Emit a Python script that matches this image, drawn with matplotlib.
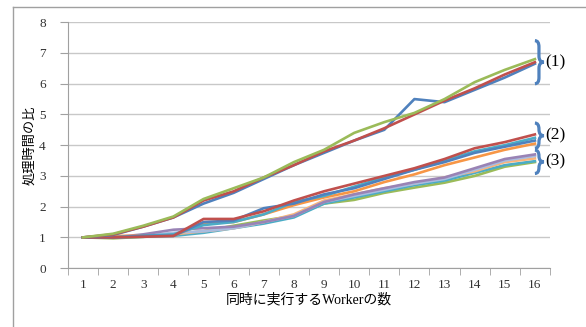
import matplotlib
matplotlib.use('Agg')
import matplotlib.pyplot as plt
from matplotlib.path import Path
from matplotlib.patches import PathPatch
from matplotlib.lines import Line2D

# Worker数ごとの処理時間の比
workers = list(range(1, 17))

# (1) のグループ
g1_blue = [1, 1.08, 1.35, 1.65, 2.1, 2.45, 2.9, 3.35, 3.75, 4.15, 4.5, 5.5, 5.4, 5.8, 6.2, 6.65]
g1_red = [1, 1.1, 1.35, 1.65, 2.2, 2.5, 2.95, 3.35, 3.8, 4.15, 4.55, 5.0, 5.45, 5.85, 6.3, 6.7]
g1_green = [1, 1.12, 1.38, 1.68, 2.25, 2.6, 2.95, 3.45, 3.85, 4.4, 4.75, 5.05, 5.5, 6.05, 6.45, 6.8]

# (2) のグループ
g2_red = [1, 1.0, 1.02, 1.05, 1.6, 1.6, 1.85, 2.2, 2.5, 2.75, 3.0, 3.25, 3.55, 3.9, 4.1, 4.35]
g2_blue = [1, 1.0, 1.05, 1.05, 1.5, 1.55, 1.95, 2.1, 2.4, 2.6, 2.9, 3.2, 3.45, 3.75, 3.95, 4.15]
g2_teal = [1, 1.0, 1.05, 1.1, 1.4, 1.5, 1.75, 2.15, 2.35, 2.65, 2.95, 3.2, 3.5, 3.8, 4.0, 4.24]
g2_orange = [1, 1.05, 1.05, 1.05, 1.45, 1.5, 1.75, 2.05, 2.3, 2.5, 2.8, 3.05, 3.35, 3.6, 3.85, 4.05]

# (3) のグループ
g3_purple = [1, 1.0, 1.1, 1.25, 1.3, 1.35, 1.5, 1.7, 2.15, 2.4, 2.6, 2.8, 2.95, 3.25, 3.55, 3.7]
g3_lightblue = [1, 1.0, 1.05, 1.15, 1.2, 1.3, 1.5, 1.7, 2.15, 2.35, 2.55, 2.75, 2.9, 3.2, 3.5, 3.65]
g3_lightorange = [1, 1.02, 1.05, 1.1, 1.2, 1.3, 1.5, 1.75, 2.2, 2.4, 2.6, 2.75, 2.95, 3.15, 3.45, 3.57]
g3_cyan = [1, 1.0, 1.02, 1.05, 1.15, 1.3, 1.45, 1.65, 2.1, 2.3, 2.5, 2.7, 2.85, 3.1, 3.35, 3.48]
g3_green = [1, 0.97, 1.02, 1.1, 1.2, 1.38, 1.55, 1.7, 2.1, 2.22, 2.45, 2.62, 2.78, 3.0, 3.3, 3.45]

group_labels = ['(1)', '(2)', '(3)']
# 括弧の範囲 (下端, 上端)
group_spans = [(6.0, 7.4), (3.9, 4.72), (3.08, 3.84)]

series = [
    (g3_green, '#9BBB59'), (g3_cyan, '#4BACC6'), (g3_lightorange, '#F9B47A'),
    (g3_lightblue, '#A9BCE0'), (g3_purple, '#9983B5'),
    (g2_orange, '#F79646'), (g2_teal, '#4BACC6'), (g2_blue, '#4F81BD'), (g2_red, '#C0504D'),
    (g1_blue, '#4F81BD'), (g1_red, '#C0504D'), (g1_green, '#9BBB59'),
]

serif = ['Liberation Serif', 'Noto Sans CJK JP']

fig = plt.figure(figsize=(5.86, 3.27), dpi=100)
ax = fig.add_axes([0.116, 0.180, 0.8225, 0.752])

for vals, col in series:
    ax.plot(workers, vals, color=col, lw=1.9, solid_joinstyle='round', zorder=3)

ax.set_xlim(0.5, 16.5)
ax.set_ylim(0, 8)
ax.set_yticks(range(0, 9))
ax.set_xticks(workers)
ax.set_xticks([x + 0.5 for x in range(0, 17)], minor=True)
ax.grid(axis='y', color='#C8C8C8', lw=1.0, zorder=0)
for s in ['top', 'right']:
    ax.spines[s].set_visible(False)
for s in ['left', 'bottom']:
    ax.spines[s].set_color('#A0A0A0')
ax.tick_params(axis='x', which='major', length=0, pad=8)
ax.tick_params(axis='x', which='minor', length=5, color='#A0A0A0', direction='out')
ax.tick_params(axis='y', length=6, color='#A0A0A0', pad=10)
for lab in ax.get_xticklabels() + ax.get_yticklabels():
    lab.set_family(serif)
    lab.set_fontsize(9.5)
    lab.set_color('#333333')

ax.set_xlabel('同時に実行するWorkerの数', family=serif, fontsize=10, labelpad=1)
ax.set_ylabel('処理時間の比', family=['Noto Sans CJK JP'], fontsize=9.5, labelpad=2)


def brace(ax, x0, ylo, yhi, w=0.3, r=0.2):
    # 右向きの波括弧
    ym = (ylo + yhi) / 2
    x1 = x0 + w * 0.45
    x2 = x0 + w
    verts = [
        (x0, yhi), (x1, yhi), (x1, yhi - r),
        (x1, ym + r), (x1, ym), (x2, ym),
        (x1, ym), (x1, ym - r),
        (x1, ylo + r), (x1, ylo), (x0, ylo),
    ]
    codes = [Path.MOVETO, Path.CURVE3, Path.CURVE3,
             Path.LINETO, Path.CURVE3, Path.CURVE3,
             Path.CURVE3, Path.CURVE3,
             Path.LINETO, Path.CURVE3, Path.CURVE3]
    ax.add_patch(PathPatch(Path(verts, codes), fill=False, edgecolor='#4F81BD',
                           lw=2.3, clip_on=False, zorder=4))


for lab, (lo, hi) in zip(group_labels, group_spans):
    r = min(0.2, (hi - lo) / 4)
    brace(ax, 16.0, lo, hi, r=r)
    ax.text(16.36, (lo + hi) / 2, lab, family=serif, fontsize=12.5,
            va='center', ha='left', clip_on=False)

# 外枠 (左と上)
x_edge, y_edge = 13 / 586, 1 - 7 / 327
fig.lines.append(Line2D([x_edge, x_edge], [0, y_edge], transform=fig.transFigure,
                        color='#A0A0A0', lw=1.0))
fig.lines.append(Line2D([x_edge, 1], [y_edge, y_edge], transform=fig.transFigure,
                        color='#A0A0A0', lw=1.0))

fig.savefig('out.png', dpi=100)
